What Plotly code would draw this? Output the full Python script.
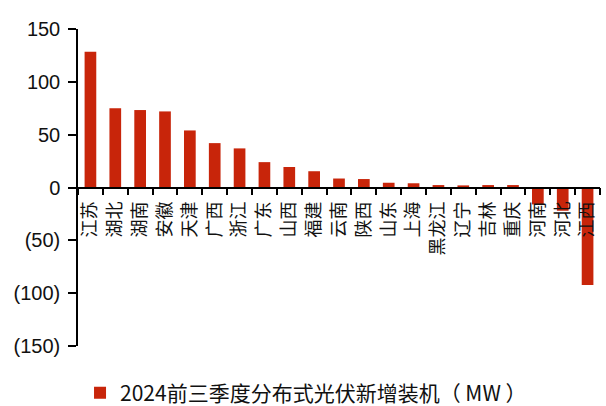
import plotly.graph_objects as go

# 2024 Q1-Q3 distributed PV new installations by province (MW)
provinces = ["江苏", "湖北", "湖南", "安徽", "天津", "广西", "浙江", "广东", "山西", "福建",
             "云南", "陕西", "山东", "上海", "黑龙江", "辽宁", "吉林", "重庆", "河南", "河北", "江西"]
installs_mw = [128.5, 75, 73.3, 72, 54, 42, 37, 24, 19.4, 15.4,
               8.5, 8, 4.5, 4, 2.3, 2, 2.3, 2.3, -16, -22, -92.3]
series_name = "2024前三季度分布式光伏新增装机（ MW ）"

y_ticks = [150, 100, 50, 0, -50, -100, -150]
y_tick_text = ["150", "100", "50", "0", "(50)", "(100)", "(150)"]

RED = "#C8250A"
NUM_FONT = "Liberation Sans, Arial, Noto Sans CJK SC, sans-serif"
CJK_FONT = "Noto Sans CJK SC, Liberation Sans, sans-serif"

fig = go.Figure(
    go.Bar(
        x=provinces,
        y=installs_mw,
        name=series_name,
        marker=dict(color=RED, line=dict(width=0)),
        showlegend=True,
    )
)

fig.update_layout(
    width=606,
    height=406,
    margin=dict(l=78, r=6, t=29, b=60, autoexpand=False),
    paper_bgcolor="white",
    plot_bgcolor="white",
    bargap=0.53,
    showlegend=True,
    legend=dict(
        orientation="h",
        x=0.505,
        xanchor="center",
        xref="container",
        y=13 / 406,
        yanchor="middle",
        yref="container",
        font=dict(family=CJK_FONT, size=21, color="#111"),
        itemwidth=30,
        bgcolor="rgba(0,0,0,0)",
    ),
)

fig.update_xaxes(
    type="category",
    anchor="free",
    position=0.5,
    showline=True,
    linecolor="black",
    linewidth=1.5,
    ticks="outside",
    tickson="boundaries",
    ticklen=7,
    tickwidth=1.5,
    tickcolor="black",
    tickangle=-90,
    ticklabelstandoff=6,
    tickfont=dict(family=CJK_FONT, size=18, color="#111"),
    showgrid=False,
    zeroline=False,
)

fig.update_yaxes(
    range=[-150, 150],
    tickvals=y_ticks,
    ticktext=y_tick_text,
    showline=True,
    linecolor="black",
    linewidth=1.5,
    ticks="outside",
    ticklen=8,
    tickwidth=1.5,
    tickcolor="black",
    ticklabelstandoff=4,
    tickfont=dict(family=NUM_FONT, size=20, color="#111"),
    showgrid=False,
    zeroline=False,
)

fig.write_html("out.html")
